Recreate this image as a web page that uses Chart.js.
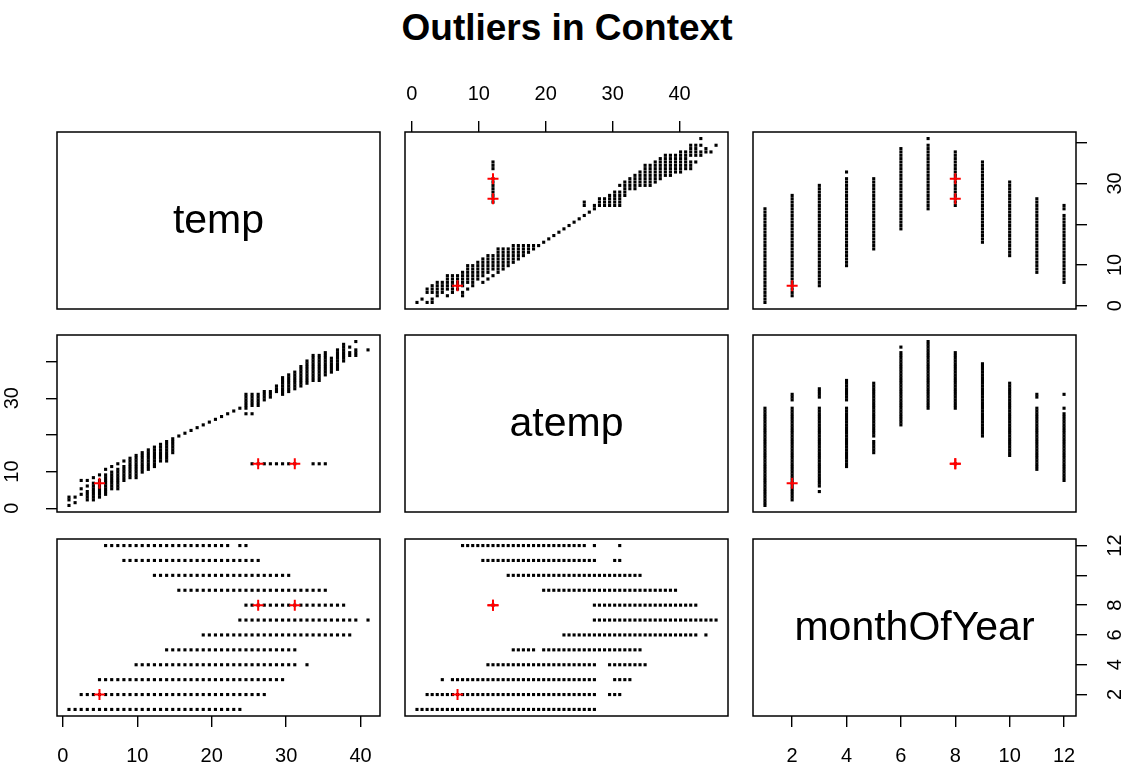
<!DOCTYPE html>
<html>
<head>
<meta charset="utf-8">
<title>Outliers in Context</title>
<script src="https://cdn.jsdelivr.net/npm/chart.js@4.4.1/dist/chart.umd.min.js"></script>
<style>
  html, body { margin: 0; padding: 0; background: #fff; }
  #page { position: relative; width: 1127px; height: 767px; overflow: hidden; }
  #title { position: absolute; left: 0; width: 1134px; top: 7px; line-height: 36px; text-align: center;
           font: bold 37px "Liberation Sans", Arial, sans-serif; color: #000; }
  canvas { position: absolute; }
</style>
</head>
<body>
<div id="page">
  <div id="title">Outliers in Context</div>
</div>
<script>
// distinct values the variables take in the data
const tempLevels = [0.82, 1.64, 2.46, 3.28, 4.1, 4.92, 5.74, 6.56, 7.38, 8.2, 9.02, 9.84, 10.66, 11.48,
  12.3, 13.12, 13.94, 14.76, 15.58, 16.4, 17.22, 18.04, 18.86, 19.68, 20.5, 21.32, 22.14, 22.96, 23.78,
  24.6, 25.42, 26.24, 27.06, 27.88, 28.7, 29.52, 30.34, 31.16, 31.98, 32.8, 33.62, 34.44, 35.26, 36.08,
  36.9, 37.72, 38.54, 39.36, 40.18, 41];
const atempLevels = [0.76, 1.515, 2.275, 3.03, 3.79, 4.545, 5.305, 6.06, 6.82, 7.575, 8.335, 9.09, 9.85,
  10.605, 11.365, 12.12, 12.88, 13.635, 14.395, 15.15, 15.91, 16.665, 17.425, 18.18, 18.94, 19.695,
  20.455, 21.21, 21.97, 22.725, 23.485, 24.24, 25.0, 25.76, 26.515, 27.275, 28.03, 28.79, 29.545,
  30.305, 31.06, 31.82, 32.575, 33.335, 34.09, 34.85, 35.605, 36.365, 37.12, 37.88, 38.635, 39.395,
  40.15, 40.91, 41.665, 42.425, 43.18, 43.94, 44.695, 45.455];

// temp vs atemp: [temp, atemp from, atemp to] (all observed atemp levels in between)
const tempAtempRuns = [
  [0.82, 0.76, 0.76], [0.82, 2.275, 3.03],
  [1.64, 1.515, 1.515], [1.64, 3.03, 3.03],
  [2.46, 3.79, 3.79], [2.46, 5.305, 5.305], [2.46, 7.575, 7.575],
  [3.28, 2.275, 4.545], [3.28, 6.06, 6.06], [3.28, 7.575, 7.575],
  [4.1, 2.275, 6.82], [4.1, 8.335, 8.335],
  [4.92, 3.03, 7.575], [4.92, 9.09, 9.09],
  [5.74, 3.79, 9.09], [5.74, 10.605, 10.605],
  [6.56, 5.305, 9.85], [6.56, 11.365, 11.365],
  [7.38, 5.305, 10.605], [7.38, 12.12, 12.12],
  [8.2, 7.575, 11.365], [8.2, 12.88, 12.88],
  [9.02, 8.335, 13.635], [9.84, 8.335, 14.395], [10.66, 9.85, 15.15], [11.48, 10.605, 15.91],
  [12.3, 11.365, 16.665], [13.12, 12.88, 17.425], [13.94, 12.88, 18.18], [14.76, 15.15, 18.94],
  [15.58, 19.695, 19.695], [16.4, 20.455, 20.455], [17.22, 21.21, 21.21], [18.04, 21.97, 21.97],
  [18.86, 22.725, 22.725], [19.68, 23.485, 23.485], [20.5, 24.24, 24.24], [21.32, 25.0, 25.0],
  [22.14, 25.76, 25.76], [22.96, 26.515, 26.515], [23.78, 27.275, 27.275],
  [24.6, 25.76, 25.76], [24.6, 27.275, 31.06],
  [25.42, 25.76, 25.76], [25.42, 28.03, 31.06],
  [26.24, 28.03, 31.06], [27.06, 29.545, 31.82], [27.88, 30.305, 31.82], [28.7, 31.82, 33.335],
  [29.52, 31.06, 35.605], [30.34, 31.82, 36.365], [31.16, 32.575, 37.12], [31.98, 33.335, 38.635],
  [32.8, 34.09, 40.15], [33.62, 34.85, 41.665], [34.44, 34.85, 41.665], [35.26, 36.365, 42.425],
  [36.08, 37.12, 40.91], [36.9, 37.88, 43.18], [37.72, 40.15, 44.695],
  [38.54, 41.665, 42.425], [38.54, 43.94, 43.94],
  [39.36, 41.665, 43.18], [39.36, 45.455, 45.455],
  [41, 43.18, 43.18]
];
// the day where atemp got stuck
const stuckAtemp = 12.12;
const stuckTemps = [25.42, 26.24, 27.06, 27.88, 28.7, 29.52, 30.34, 31.16, 33.62, 34.44, 35.26];

// month vs temp: [month, temp from, temp to]
const monthTempRuns = [
  [1, 0.82, 23.78], [2, 2.46, 27.06], [3, 4.92, 29.52], [4, 9.84, 31.16], [4, 32.8, 32.8],
  [5, 13.94, 31.16], [6, 18.86, 38.54], [7, 23.78, 39.36], [7, 41, 41], [8, 24.6, 37.72],
  [9, 15.58, 35.26], [10, 12.3, 30.34], [11, 8.2, 26.24], [12, 5.74, 22.14], [12, 23.78, 24.6]
];
// month vs atemp: [month, atemp from, atemp to]
const monthAtempRuns = [
  [1, 0.76, 27.275],
  [2, 2.275, 27.275], [2, 29.545, 31.06],
  [3, 4.545, 4.545], [3, 6.06, 27.275], [3, 30.305, 32.575],
  [4, 11.365, 27.275], [4, 29.545, 34.85],
  [5, 15.15, 18.18], [5, 19.695, 34.09],
  [6, 22.725, 42.425], [6, 43.94, 43.94],
  [7, 27.275, 45.455],
  [8, 12.12, 12.12], [8, 27.275, 42.425],
  [9, 19.695, 39.395],
  [10, 14.395, 34.09],
  [11, 10.605, 27.275], [11, 30.305, 31.06],
  [12, 7.575, 25.76], [12, 27.275, 27.275], [12, 31.06, 31.06]
];

// flagged outliers
const outlierTemp = [4.92, 26.24, 31.16];
const outlierAtemp = [6.82, 12.12, 12.12];
const outlierMonth = [2, 8, 8];

// axes
const varNames = ['temp', 'atemp', 'monthOfYear'];
const tempRange = [-0.79, 42.61];
const atempRange = [-1.03, 47.24];
const monthRange = [0.56, 12.44];
const tempTicks = [0, 10, 20, 30, 40];
const atempTicks = [0, 10, 20, 30, 40];
const monthTicks = [2, 4, 6, 8, 10, 12];
// labels R keeps on the vertical axes (others dropped for overlap)
const tempSideLabels = [0, 10, 30];
const atempSideLabels = [0, 10, 30];
const monthSideLabels = [2, 4, 6, 8, 12];

function expand(runs, levels) {
  const out = [];
  runs.forEach(([a, lo, hi]) => {
    levels.forEach(v => { if (v >= lo - 1e-6 && v <= hi + 1e-6) out.push([a, v]); });
  });
  return out;
}

const tempAtempPairs = expand(tempAtempRuns, atempLevels).concat(stuckTemps.map(t => [t, stuckAtemp]));
const monthTempPairs = expand(monthTempRuns, tempLevels);
const monthAtempPairs = expand(monthAtempRuns, atempLevels);

const varRange = [tempRange, atempRange, monthRange];
const varTicks = [tempTicks, atempTicks, monthTicks];
const varSideLabels = [tempSideLabels, atempSideLabels, monthSideLabels];
const outliers = [outlierTemp, outlierAtemp, outlierMonth];

function panelPoints(xi, yi) {
  let list, flip;
  if (xi + yi === 1) { list = tempAtempPairs; flip = xi === 1; }
  else if (xi + yi === 2) { list = monthTempPairs; flip = xi === 0; }
  else { list = monthAtempPairs; flip = xi === 1; }
  return list.map(p => flip ? { x: p[1], y: p[0] } : { x: p[0], y: p[1] });
}

// layout of the 3x3 grid
const panelX = [57, 405, 753];
const panelY = [132, 335, 539];
const panelW = 323, panelH = 177;
const M = 62, A = 60;
const FONT = "'Liberation Sans', Arial, Helvetica, sans-serif";
Chart.defaults.font.family = FONT;
Chart.defaults.color = '#000';

const panelBox = {
  id: 'panelBox',
  afterDatasetsDraw(chart, args, opts) {
    const { ctx, chartArea: a } = chart;
    ctx.save();
    if (opts.label) {
      ctx.fillStyle = '#000';
      ctx.font = '41px ' + FONT;
      ctx.textAlign = 'center';
      ctx.textBaseline = 'middle';
      ctx.fillText(opts.label, (a.left + a.right) / 2, (a.top + a.bottom) / 2 + 1);
    }
    ctx.strokeStyle = '#000';
    ctx.lineWidth = 1.5;
    ctx.strokeRect(a.left, a.top, a.right - a.left, a.bottom - a.top);
    ctx.restore();
  }
};

function axisGrid() {
  return { display: true, drawOnChartArea: false, drawTicks: true, tickLength: 11,
           tickColor: '#000', tickWidth: 1.4, lineWidth: 1.4 };
}

const page = document.getElementById('page');
const n = varNames.length;
for (let r = 0; r < n; r++) {
  for (let c = 0; c < n; c++) {
    const xi = c, yi = r;
    const xPos = (r === 0 && c % 2 === 1) ? 'top' : (r === n - 1 && c % 2 === 0) ? 'bottom' : null;
    const yPos = (c === 0 && r % 2 === 1) ? 'left' : (c === n - 1 && r % 2 === 0) ? 'right' : null;

    const canvas = document.createElement('canvas');
    canvas.width = panelW + 2 * M;
    canvas.height = panelH + 2 * M;
    canvas.style.left = (panelX[c] - M) + 'px';
    canvas.style.top = (panelY[r] - M) + 'px';
    page.appendChild(canvas);

    const datasets = [];
    if (r !== c) {
      datasets.push({
        data: outlierTemp.map((_, i) => ({ x: outliers[xi][i], y: outliers[yi][i] })),
        pointStyle: 'cross', pointRadius: 5.5, pointBorderColor: '#ff0000', pointBorderWidth: 2
      });
      datasets.push({
        data: panelPoints(xi, yi),
        pointStyle: 'rect', pointRadius: 2.2, pointBackgroundColor: '#000', pointBorderWidth: 0
      });
    }

    const xTickVals = varTicks[xi], yTickVals = varTicks[yi];
    const ySide = varSideLabels[yi];

    new Chart(canvas, {
      type: 'scatter',
      data: { datasets },
      options: {
        responsive: false,
        animation: false,
        events: [],
        layout: { padding: {
          left: yPos === 'left' ? M - A : M,
          right: yPos === 'right' ? M - A : M,
          top: xPos === 'top' ? M - A : M,
          bottom: xPos === 'bottom' ? M - A : M
        } },
        plugins: {
          legend: { display: false },
          tooltip: { enabled: false },
          panelBox: { label: r === c ? varNames[r] : '' }
        },
        scales: {
          x: {
            type: 'linear', position: xPos || 'bottom', display: !!xPos,
            min: varRange[xi][0], max: varRange[xi][1],
            afterBuildTicks: s => { s.ticks = xTickVals.map(v => ({ value: v })); },
            afterFit: s => { s.height = xPos ? A : 0; },
            grid: axisGrid(),
            border: { display: false },
            ticks: { autoSkip: false, minRotation: 0, maxRotation: 0, color: '#000',
                     padding: xPos === 'top' ? 15 : 17, font: { size: 20 },
                     callback: v => String(v) }
          },
          y: {
            type: 'linear', position: yPos || 'left', display: !!yPos,
            min: varRange[yi][0], max: varRange[yi][1],
            afterBuildTicks: s => { s.ticks = yTickVals.map(v => ({ value: v })); },
            afterFit: s => { s.width = yPos ? A : 0; },
            grid: axisGrid(),
            border: { display: false },
            ticks: { autoSkip: false, minRotation: 90, maxRotation: 90, crossAlign: 'center', color: '#000',
                     padding: yPos === 'left' ? 22 : 17, font: { size: 20 },
                     callback: v => ySide.includes(v) ? String(v) : '' }
          }
        }
      },
      plugins: [panelBox]
    });
  }
}
</script>
</body>
</html>
